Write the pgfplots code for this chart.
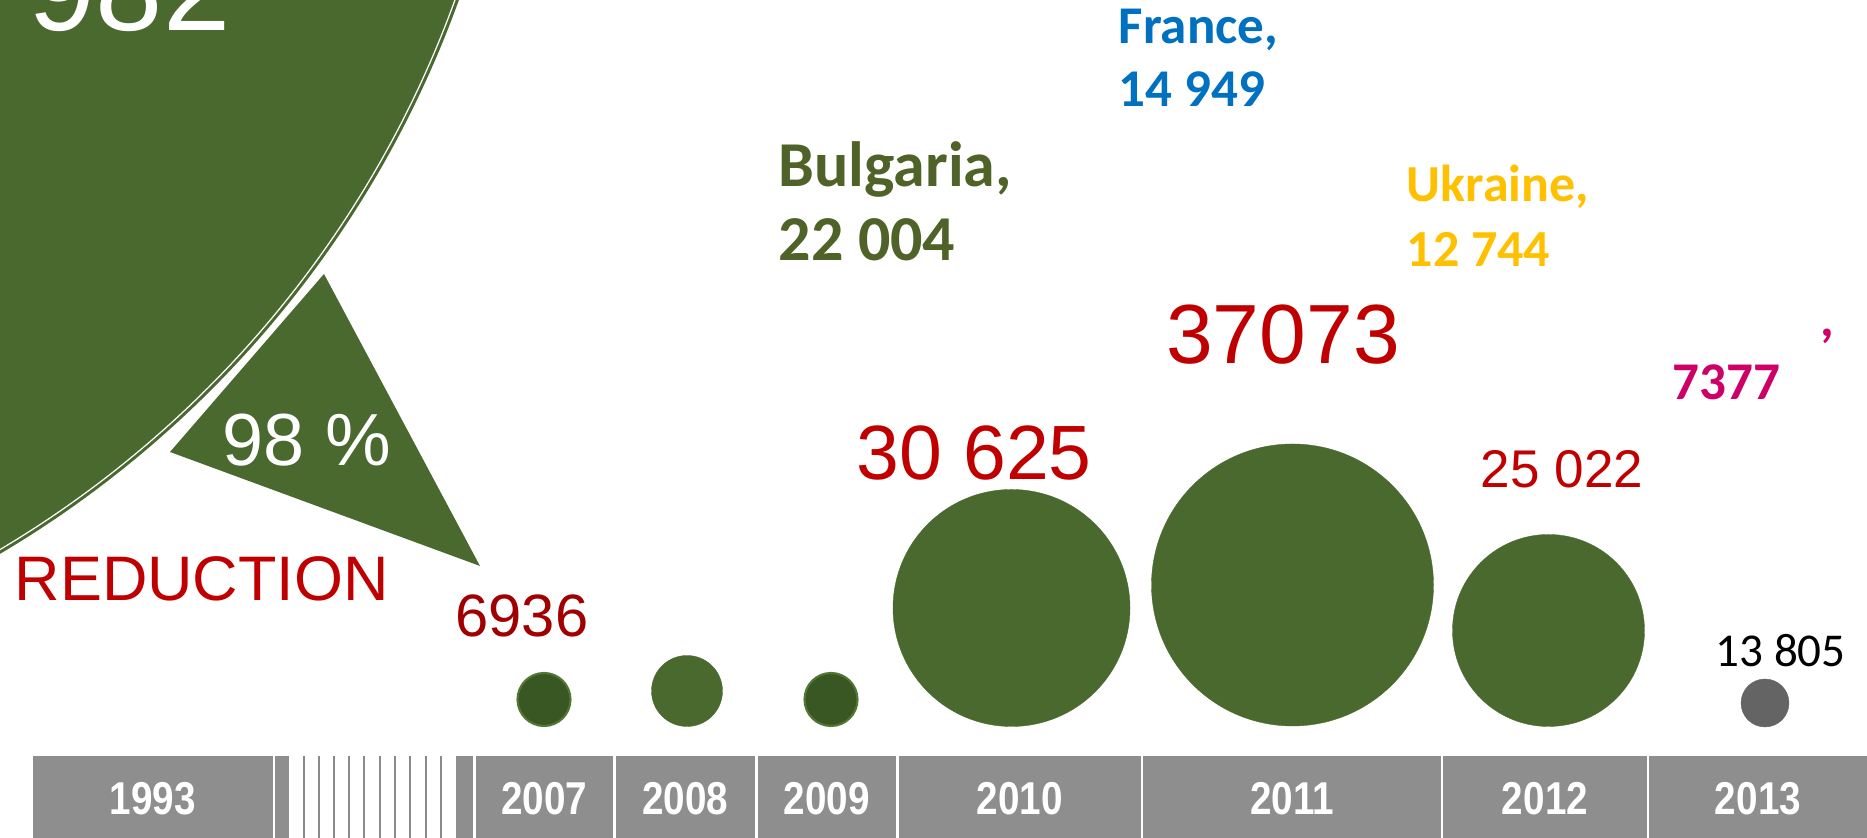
\documentclass[border=0pt]{standalone}
\usepackage{fontspec}
\setmainfont{Liberation Sans}
\newfontfamily\calibri{Carlito}
\usepackage{graphicx}
\usepackage{pgfplots}
\usepackage{pgfplotstable}
\pgfplotsset{compat=1.18}

\definecolor{grn}{RGB}{74,105,47}
\definecolor{dkgrn}{RGB}{56,87,35}
\definecolor{rimgrn}{RGB}{82,118,52}
\definecolor{barg}{RGB}{142,142,142}
\definecolor{stripeg}{RGB}{138,138,138}
\definecolor{bgray}{RGB}{100,100,100}
\definecolor{red1}{RGB}{192,0,0}
\definecolor{red2}{RGB}{160,0,0}
\definecolor{olive}{RGB}{79,98,40}
\definecolor{blue1}{RGB}{0,112,192}
\definecolor{gold}{RGB}{255,192,0}
\definecolor{mag}{RGB}{204,0,102}

% 1993 bubble (centre lies outside the visible frame)
\pgfplotstableread{
x y r
-539 1197.5 1059.7
}\bubbig
% bubbles: x, y (centre), r (radius, px), value
\pgfplotstableread{
x y r val
1011.5 230 118.5 30625
1292.5 253 141 37073
1548.5 207.5 96 25022
687 147 35.5 0
}\bubgreen
\pgfplotstableread{
x y r val
544 138.5 27.5 6936
831 138.5 27.5 0
}\bubdark
\pgfplotstableread{
x y r val
1765 135 24 13805
}\bubgray

\newcommand\yl[2]{\node[anchor=base, inner sep=0, text=white, font=\bfseries\fontsize{13.1}{15}\selectfont] at (axis cs:#1,23) {\scalebox{0.84}[1]{#2}};}

\begin{document}
\begin{tikzpicture}
% wide helper axis, same scale (1 unit = 0.1 mm), holding the 1993 bubble
\begin{axis}[at={(-60mm,0)}, anchor=south west, scale only axis,
  width=246.7mm, height=130mm,
  xmin=-600, xmax=1867, ymin=0, ymax=1300,
  hide axis, clip=false]
\addplot[scatter, only marks, mark=*,
  scatter/use mapped color={draw=grn, fill=grn},
  visualization depends on={\thisrow{r} \as \rr},
  scatter/@pre marker code/.append style={/tikz/mark size={\rr*0.28453}}]
  table[x=x, y=y] \bubbig;
\addplot[only marks, mark=o, mark size=300.66pt, mark options={draw=white, line width=0.35pt}]
  table[x=x, y=y] \bubbig;
\end{axis}

\begin{axis}[at={(0,0)}, anchor=south west, scale only axis,
  width=186.7mm, height=83.8mm,
  xmin=0, xmax=1867, ymin=0, ymax=838,
  hide axis, clip=true]

% reduction triangle
\addplot[fill=grn, draw=none]
  coordinates {(324,564) (170,386) (480,272) (324,564)};

% green bubbles
\addplot[scatter, only marks, mark=*,
  scatter/use mapped color={draw=grn, fill=grn},
  mark options={line width=0.1pt},
  visualization depends on={\thisrow{r} \as \rr},
  scatter/@pre marker code/.append style={/tikz/mark size={\rr*0.28453}}]
  table[x=x, y=y] \bubgreen;
% dark bubbles with rim
\addplot[scatter, only marks, mark=*,
  scatter/use mapped color={draw=rimgrn, fill=dkgrn},
  mark options={line width=0.6pt},
  visualization depends on={\thisrow{r} \as \rr},
  scatter/@pre marker code/.append style={/tikz/mark size={(\rr-1)*0.28453}}]
  table[x=x, y=y] \bubdark;
% grey 2013 bubble
\addplot[scatter, only marks, mark=*,
  scatter/use mapped color={draw=bgray, fill=bgray},
  mark options={line width=0.1pt},
  visualization depends on={\thisrow{r} \as \rr},
  scatter/@pre marker code/.append style={/tikz/mark size={\rr*0.28453}}]
  table[x=x, y=y] \bubgray;

% timeline segments
\addplot[fill=barg, draw=none] coordinates {(33,0)(273,0)(273,82)(33,82)};
\addplot[fill=barg, draw=none] coordinates {(275,0)(289,0)(289,82)(275,82)};
\addplot[fill=barg, draw=none] coordinates {(456,0)(473,0)(473,82)(456,82)};
\addplot[fill=barg, draw=none] coordinates {(476,0)(613,0)(613,82)(476,82)};
\addplot[fill=barg, draw=none] coordinates {(616,0)(755,0)(755,82)(616,82)};
\addplot[fill=barg, draw=none] coordinates {(758,0)(896,0)(896,82)(758,82)};
\addplot[fill=barg, draw=none] coordinates {(899,0)(1141,0)(1141,82)(899,82)};
\addplot[fill=barg, draw=none] coordinates {(1143,0)(1441,0)(1441,82)(1143,82)};
\addplot[fill=barg, draw=none] coordinates {(1443,0)(1647,0)(1647,82)(1443,82)};
\addplot[fill=barg, draw=none] coordinates {(1649,0)(1867,0)(1867,82)(1649,82)};
\addplot[ycomb, draw=stripeg, line width=0.6pt, mark=none]
  coordinates {(304,82)(319,82)(334,82)(349,82)(364,82)(380,82)(395,82)(410,82)(426,82)(441,82)};

% year labels
\yl{153}{1993}
\yl{544.5}{2007}
\yl{685.5}{2008}
\yl{827}{2009}
\yl{1020}{2010}
\yl{1292}{2011}
\yl{1545}{2012}
\yl{1758}{2013}

% texts
\node[anchor=base west, inner sep=0, text=white, font=\fontsize{34.4}{38}\selectfont] at (axis cs:28,807) {982};
\node[anchor=base west, inner sep=0, text=white, font=\fontsize{21}{24}\selectfont] at (axis cs:222,372) {98 \%};
\node[anchor=base west, inner sep=0, text=red1, font=\fontsize{17.9}{20}\selectfont] at (axis cs:14,237) {REDUCTION};
\node[anchor=base, inner sep=0, text=red2, font=\fontsize{17}{20}\selectfont] at (axis cs:522,201) {6936};
\node[anchor=base, inner sep=0, text=red1, font=\fontsize{21.9}{24}\selectfont] at (axis cs:974,358) {30 625};
\node[anchor=base, inner sep=0, text=red1, font=\fontsize{23.9}{26}\selectfont] at (axis cs:1283,474) {37073};
\node[anchor=base, inner sep=0, text=red1, font=\fontsize{15.1}{18}\selectfont] at (axis cs:1562,350) {25 022};
\node[anchor=base west, inner sep=0, text=black, font=\calibri\fontsize{13.4}{16}\selectfont] at (axis cs:1715,171) {13 805};

\node[anchor=base west, inner sep=0, text=olive, font=\calibri\bfseries\fontsize{18.2}{21}\selectfont] at (axis cs:778,651) {Bulgaria,};
\node[anchor=base west, inner sep=0, text=olive, font=\calibri\bfseries\fontsize{18.2}{21}\selectfont] at (axis cs:778,577) {22 004};
\node[anchor=base west, inner sep=0, text=blue1, font=\calibri\bfseries\fontsize{15.1}{18}\selectfont] at (axis cs:1118,794) {France,};
\node[anchor=base west, inner sep=0, text=blue1, font=\calibri\bfseries\fontsize{15.1}{18}\selectfont] at (axis cs:1118,731) {14 949};
\node[anchor=base west, inner sep=0, text=gold, font=\calibri\bfseries\fontsize{14.8}{18}\selectfont] at (axis cs:1406,636) {Ukraine,};
\node[anchor=base west, inner sep=0, text=gold, font=\calibri\bfseries\fontsize{14.8}{18}\selectfont] at (axis cs:1406,571) {12 744};
\node[anchor=base west, inner sep=0, text=mag, font=\calibri\bfseries\fontsize{15.1}{18}\selectfont] at (axis cs:1820,501) {,};
\node[anchor=base west, inner sep=0, text=mag, font=\calibri\bfseries\fontsize{15.1}{18}\selectfont] at (axis cs:1672,438) {7377};
\end{axis}
\pgfresetboundingbox
\path (0,0) rectangle (186.7mm,83.8mm);
\end{tikzpicture}
\end{document}
